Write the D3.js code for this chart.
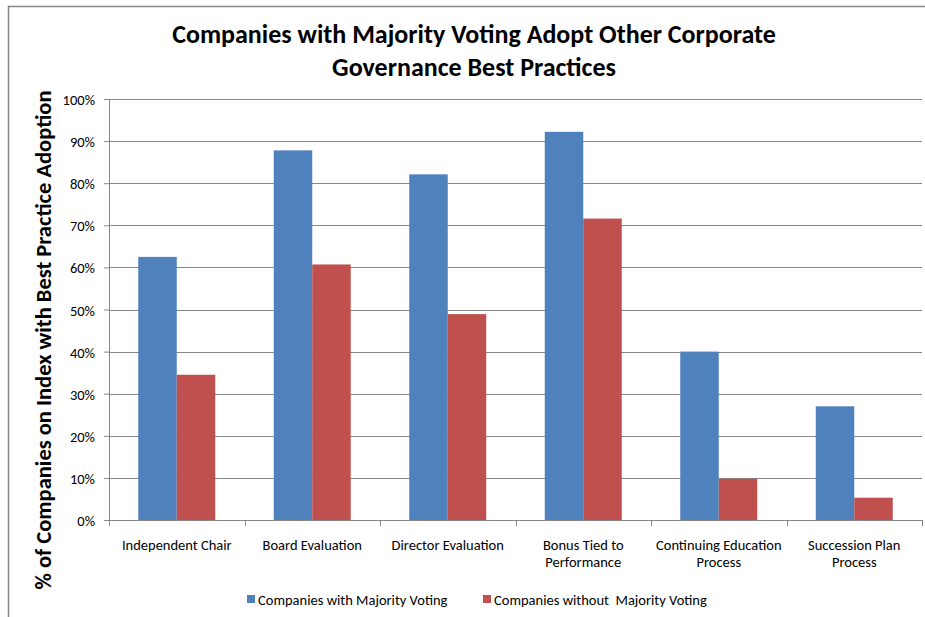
<!DOCTYPE html>
<html>
<head>
<meta charset="utf-8">
<script src="https://cdn.jsdelivr.net/npm/d3@7"></script>
<style>
  body { margin: 0; background: #fff; }
  svg text { font-family: Carlito, 'Liberation Sans Narrow', 'Arial Narrow', 'Open Sans', sans-serif; fill: #000; }
</style>
</head>
<body>
<div id="chart"></div>
<script>
// chart data
const categories = [
    ['Independent Chair'],
    ['Board Evaluation'],
    ['Director Evaluation'],
    ['Bonus Tied to', 'Performance'],
    ['Continuing Education', 'Process'],
    ['Succession Plan', 'Process']
];
const seriesNames = ['Companies with Majority Voting', 'Companies without  Majority Voting'];
const withMajority = [62.5, 87.8, 82.1, 92.2, 40.0, 27.0];
const withoutMajority = [34.5, 60.7, 48.9, 71.6, 9.8, 5.3];
const yTicks = [0, 10, 20, 30, 40, 50, 60, 70, 80, 90, 100];
const colors = ['#4F81BD', '#C0504D'];

const width = 925, height = 617;
const margin = {t: 99, r: 3, b: 97, l: 109};
const w = width - margin.l - margin.r;
const h = height - margin.t - margin.b;

const svg = d3.select('#chart')
    .append('svg')
    .attr('width', width)
    .attr('height', height);

// outer chart border
svg.append('rect')
    .attr('x', 8.5).attr('y', 6.5)
    .attr('width', width + 10).attr('height', height + 10)
    .attr('fill', 'none')
    .attr('stroke', '#868686')
    .attr('stroke-width', 1.5);

// title
const title = svg.append('text')
    .attr('text-anchor', 'middle')
    .style('font-weight', 'bold')
    .style('font-size', '26px');
title.append('tspan').attr('x', 474).attr('y', 43).text('Companies with Majority Voting Adopt Other Corporate');
title.append('tspan').attr('x', 474).attr('y', 76).text('Governance Best Practices');

// scales
const x0 = d3.scaleBand()
    .domain(d3.range(categories.length))
    .range([0, w]);
const x1 = d3.scaleBand()
    .domain([0, 1])
    .range([0, x0.bandwidth()])
    .paddingInner(0)
    .paddingOuter(0.76);
const y = d3.scaleLinear()
    .domain([0, 100])
    .range([h, 0]);

const plot = svg.append('g')
    .attr('transform', `translate(${margin.l},${margin.t})`);

// gridlines
plot.append('g')
    .selectAll('line')
    .data(yTicks.filter(d => d > 0))
    .enter()
    .append('line')
    .attr('x1', 0).attr('x2', w)
    .attr('y1', d => Math.round(y(d)) + 0.5)
    .attr('y2', d => Math.round(y(d)) + 0.5)
    .attr('stroke', '#878787')
    .attr('stroke-width', 1);

// y axis
const yAxis = plot.append('g')
    .call(d3.axisLeft(y).tickValues(yTicks).tickFormat(d => d + '%').tickSize(5).tickSizeOuter(0));
yAxis.select('.domain').attr('stroke', '#868686');
yAxis.selectAll('.tick line').attr('stroke', '#868686');
yAxis.selectAll('.tick text')
    .attr('x', -14)
    .attr('dy', '0.38em')
    .style('font-size', '14.5px');

// bars
const series = [withMajority, withoutMajority];
const groups = plot.append('g')
    .selectAll('g')
    .data(categories.map((c, i) => i))
    .enter()
    .append('g')
    .attr('transform', i => `translate(${x0(i)},0)`);
groups.selectAll('rect')
    .data(i => series.map((s, k) => ({k, v: s[i]})))
    .enter()
    .append('rect')
    .attr('x', d => x1(d.k))
    .attr('width', x1.bandwidth())
    .attr('y', d => y(d.v))
    .attr('height', d => h - y(d.v))
    .attr('fill', d => colors[d.k]);

// x axis
const xAxis = plot.append('g')
    .attr('transform', `translate(0,${h})`);
xAxis.append('line')
    .attr('x1', 0).attr('x2', w)
    .attr('y1', 0.5).attr('y2', 0.5)
    .attr('stroke', '#868686');
xAxis.selectAll('.xtick')
    .data(d3.range(categories.length + 1))
    .enter()
    .append('line')
    .attr('x1', i => Math.round(i * x0.bandwidth()) + 0.5)
    .attr('x2', i => Math.round(i * x0.bandwidth()) + 0.5)
    .attr('y1', 0).attr('y2', 6)
    .attr('stroke', '#868686');
const xLabels = xAxis.selectAll('.xlabel')
    .data(categories)
    .enter()
    .append('text')
    .attr('text-anchor', 'middle')
    .style('font-size', '14.5px');
xLabels.selectAll('tspan')
    .data((c, i) => c.map((line, j) => ({line, j, i})))
    .enter()
    .append('tspan')
    .attr('x', d => x0(d.i) + x0.bandwidth() / 2)
    .attr('y', d => 30 + d.j * 17)
    .text(d => d.line);

// y axis title
svg.append('text')
    .attr('transform', 'translate(51,340) rotate(-90)')
    .attr('text-anchor', 'middle')
    .style('font-weight', 'bold')
    .style('font-size', '22.5px')
    .text('% of Companies on Index with Best Practice Adoption');

// legend
const legendX = [247, 483];
const legend = svg.append('g');
const items = legend.selectAll('g')
    .data(seriesNames)
    .enter()
    .append('g')
    .attr('transform', (d, i) => `translate(${legendX[i]},595)`);
items.append('rect')
    .attr('width', 8).attr('height', 8)
    .attr('fill', (d, i) => colors[i]);
items.append('text')
    .attr('x', 11).attr('y', 10)
    .style('font-size', '14.5px')
    .style('white-space', 'pre')
    .text(d => d);
</script>
</body>
</html>
